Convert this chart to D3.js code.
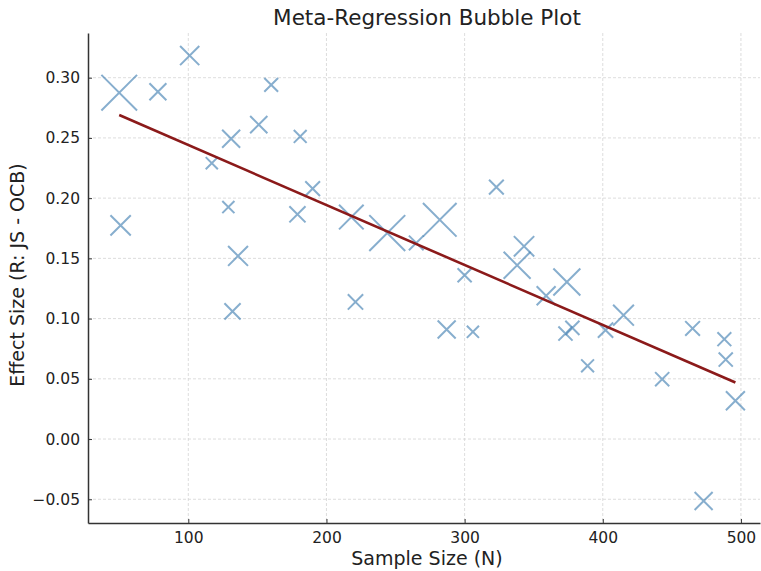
<!DOCTYPE html>
<html>
<head>
<meta charset="utf-8">
<script src="https://cdn.jsdelivr.net/npm/d3@7"></script>
<style>
  body { margin: 0; background: #fff; }
  svg text { font-family: "DejaVu Sans", sans-serif; fill: #222; }
</style>
</head>
<body>
<div id="chart"></div>
<script>
// sample sizes, effect sizes and study weights
const sampleSize = [50, 78, 101, 160, 151, 131, 181, 117, 129, 190, 179, 51, 136, 132,
  218, 244, 265, 282, 323, 343, 338, 300, 221, 287, 306, 359, 374, 378, 373, 389,
  402, 415, 443, 465, 488, 489, 496, 473];
const effectSize = [0.2875, 0.2883, 0.3184, 0.294, 0.261, 0.2493, 0.2512, 0.229, 0.1926,
  0.2079, 0.1866, 0.1774, 0.152, 0.106, 0.1843, 0.171, 0.1628, 0.182, 0.2092, 0.160,
  0.1443, 0.136, 0.1138, 0.091, 0.089, 0.119, 0.1304, 0.0923, 0.0876, 0.0608, 0.0904,
  0.1028, 0.0497, 0.0918, 0.0829, 0.066, 0.0318, -0.0514];
const weight = [142, 36, 45, 25, 37, 40, 22, 20, 20, 28, 33, 50, 48, 33, 71, 144, 28, 127,
  28, 50, 84, 26, 30, 40, 20, 44, 84, 26, 26, 22, 30, 52, 26, 28, 25, 26, 44, 40];
const xTicks = [100, 200, 300, 400, 500];
const yTicks = [-0.05, 0, 0.05, 0.10, 0.15, 0.20, 0.25, 0.30];
// fitted meta-regression line
const fitIntercept = 0.2939;
const fitSlope = -0.000498;

const width = 761, height = 571;
const margin = { top: 33, right: 1, bottom: 48, left: 88 };

const svg = d3.select('#chart').append('svg')
  .attr('width', width)
  .attr('height', height);

const x = d3.scaleLinear().domain([27.4, 513.8]).range([margin.left, width - margin.right]);
const y = d3.scaleLinear().domain([-0.0697, 0.3371]).range([height - margin.bottom, margin.top]);
const size = d3.scaleSqrt().domain([0, 150]).range([0, 38.7]);

// grid
const grid = svg.append('g').attr('stroke', '#d4d4d4').attr('stroke-width', 0.8).attr('stroke-dasharray', '3,2');
grid.selectAll('.gx').data(xTicks).enter().append('line')
  .attr('x1', d => x(d)).attr('x2', d => x(d))
  .attr('y1', margin.top).attr('y2', height - margin.bottom);
grid.selectAll('.gy').data(yTicks).enter().append('line')
  .attr('y1', d => y(d)).attr('y2', d => y(d))
  .attr('x1', margin.left).attr('x2', width - margin.right);

// markers (x shape)
const pts = sampleSize.map((n, i) => ({ n: n, es: effectSize[i], w: weight[i] }));
svg.append('g').selectAll('path').data(pts).enter().append('path')
  .attr('d', d => {
    const h = size(d.w) / 2 - 1;
    const cx = x(d.n), cy = y(d.es);
    return `M${cx - h},${cy - h}L${cx + h},${cy + h}M${cx - h},${cy + h}L${cx + h},${cy - h}`;
  })
  .attr('fill', 'none')
  .attr('stroke', 'steelblue')
  .attr('stroke-opacity', 0.65)
  .attr('stroke-width', 2);

// regression line
const xr = d3.extent(sampleSize);
svg.append('line')
  .attr('x1', x(xr[0])).attr('y1', y(fitIntercept + fitSlope * xr[0]))
  .attr('x2', x(xr[1])).attr('y2', y(fitIntercept + fitSlope * xr[1]))
  .attr('stroke', '#8b1a1a')
  .attr('stroke-width', 2.6);

// axes, ticks inside
const xAxis = svg.append('g')
  .attr('transform', `translate(0,${height - margin.bottom})`)
  .call(d3.axisBottom(x).tickValues(xTicks).tickSizeInner(-4).tickSizeOuter(0).tickPadding(9));
const yAxis = svg.append('g')
  .attr('transform', `translate(${margin.left},0)`)
  .call(d3.axisLeft(y).tickValues(yTicks).tickSizeInner(-4).tickSizeOuter(0).tickPadding(8)
    .tickFormat(d => d3.format('.2f')(d).replace('-', '\u2212')));
[xAxis, yAxis].forEach(a => {
  a.select('.domain').attr('stroke', '#333').attr('stroke-width', 1.5);
  a.selectAll('.tick line').attr('stroke', '#333').attr('stroke-width', 1);
  a.selectAll('.tick text').style('font-size', '15.5px').attr('fill', '#222');
});

// labels
svg.append('text')
  .attr('x', 427).attr('y', 25)
  .attr('text-anchor', 'middle')
  .style('font-size', '21.5px')
  .text('Meta-Regression Bubble Plot');
svg.append('text')
  .attr('x', 427).attr('y', 565)
  .attr('text-anchor', 'middle')
  .style('font-size', '19px')
  .text('Sample Size (N)');
svg.append('text')
  .attr('transform', `translate(24,275) rotate(-90)`)
  .attr('text-anchor', 'middle')
  .style('font-size', '19px')
  .text('Effect Size (R: JS - OCB)');
</script>
</body>
</html>
